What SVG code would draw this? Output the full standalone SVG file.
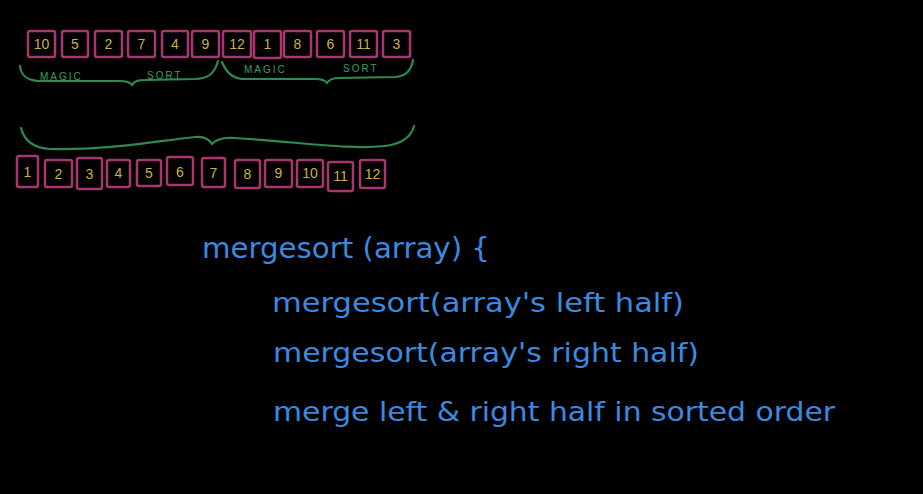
<svg xmlns="http://www.w3.org/2000/svg" width="923" height="494" viewBox="0 0 923 494">
<style>
.bx{fill:none;stroke:#a8366f;stroke-width:2.5}
.num{fill:#c9b23e;font-family:"Liberation Sans",sans-serif;font-size:14px;text-anchor:middle}
.br{fill:none;stroke:#2f8a50;stroke-width:2.2;stroke-linecap:round;stroke-linejoin:round}
.lab{fill:#34a060;font-family:"Liberation Sans",sans-serif;font-size:10px;letter-spacing:2px}
.code{fill:#3a8be0;font-family:"DejaVu Sans",sans-serif}
</style>
<rect width="923" height="494" fill="#000"/>
<g id="top-row">
<g id="t1"><rect class="bx" x="28" y="31" width="27" height="26" rx="2"/><text class="num" x="41.5" y="49">10</text></g>
<g id="t2"><rect class="bx" x="62" y="31" width="26" height="26" rx="2"/><text class="num" x="75" y="49">5</text></g>
<g id="t3"><rect class="bx" x="95" y="31" width="27" height="26" rx="2"/><text class="num" x="108.5" y="49">2</text></g>
<g id="t4"><rect class="bx" x="128" y="31" width="27" height="26" rx="2"/><text class="num" x="141.5" y="49">7</text></g>
<g id="t5"><rect class="bx" x="162" y="31" width="26" height="26" rx="2"/><text class="num" x="175" y="49">4</text></g>
<g id="t6"><rect class="bx" x="192" y="31" width="27" height="26" rx="2"/><text class="num" x="205.5" y="49">9</text></g>
<g id="t7"><rect class="bx" x="223" y="31" width="28" height="26" rx="2"/><text class="num" x="237" y="49">12</text></g>
<g id="t8"><rect class="bx" x="254" y="31" width="27" height="27" rx="2"/><text class="num" x="267.5" y="49">1</text></g>
<g id="t9"><rect class="bx" x="284" y="31" width="27" height="26" rx="2"/><text class="num" x="297.5" y="49">8</text></g>
<g id="t10"><rect class="bx" x="317" y="31" width="27" height="26" rx="2"/><text class="num" x="330.5" y="49">6</text></g>
<g id="t11"><rect class="bx" x="350" y="31" width="27" height="26" rx="2"/><text class="num" x="363.5" y="49">11</text></g>
<g id="t12"><rect class="bx" x="383" y="31" width="27" height="26" rx="2"/><text class="num" x="396.5" y="49">3</text></g>
</g>
<g id="connectors">
<path class="br" d="M20,66 C21,76 27,80 38,81 L120,81 C127,81 130,82 132,85 C134,81 138,80 146,80 L196,79 C210,78 215,72 218,61"/>
<path class="br" d="M222,62 C226,72 232,78 242,79 L315,79 C322,79 325,80 327,83 C329,79 333,78 340,78 L395,77 C406,76 411,71 413,60"/>
<path class="br" d="M21,128 C24,140 32,148 50,149 C110,150 150,142 195,137 C204,136 209,139 212,144 C216,139 222,137 235,138 C300,142 350,150 385,146 C400,144 411,138 414,126"/>
</g>
<g id="labels">
<text class="lab" x="40" y="80">MAGIC</text>
<text class="lab" x="147" y="79">SORT</text>
<text class="lab" x="244" y="73">MAGIC</text>
<text class="lab" x="343" y="72">SORT</text>
</g>
<g id="bottom-row">
<g id="b1"><rect class="bx" x="17" y="156" width="21" height="31" rx="2"/><text class="num" x="27.5" y="177">1</text></g>
<g id="b2"><rect class="bx" x="45" y="160" width="27" height="27" rx="2"/><text class="num" x="58.5" y="179">2</text></g>
<g id="b3"><rect class="bx" x="77" y="158" width="25" height="31" rx="2"/><text class="num" x="89.5" y="179">3</text></g>
<g id="b4"><rect class="bx" x="107" y="160" width="23" height="27" rx="2"/><text class="num" x="118.5" y="178">4</text></g>
<g id="b5"><rect class="bx" x="137" y="160" width="24" height="26" rx="2"/><text class="num" x="149" y="178">5</text></g>
<g id="b6"><rect class="bx" x="167" y="157" width="26" height="28" rx="2"/><text class="num" x="180" y="177">6</text></g>
<g id="b7"><rect class="bx" x="202" y="158" width="23" height="29" rx="2"/><text class="num" x="213.5" y="178">7</text></g>
<g id="b8"><rect class="bx" x="235" y="160" width="25" height="28" rx="2"/><text class="num" x="247.5" y="179">8</text></g>
<g id="b9"><rect class="bx" x="265" y="160" width="27" height="27" rx="2"/><text class="num" x="278.5" y="178">9</text></g>
<g id="b10"><rect class="bx" x="297" y="160" width="26" height="27" rx="2"/><text class="num" x="310" y="178">10</text></g>
<g id="b11"><rect class="bx" x="328" y="162" width="25" height="29" rx="2"/><text class="num" x="340.5" y="181">11</text></g>
<g id="b12"><rect class="bx" x="360" y="160" width="25" height="28" rx="2"/><text class="num" x="372.5" y="179">12</text></g>
</g>
<g id="code">
<text class="code" x="202" y="258" font-size="29" textLength="288" lengthAdjust="spacingAndGlyphs">mergesort (array) {</text>
<text class="code" x="272" y="312" font-size="27" textLength="412" lengthAdjust="spacingAndGlyphs">mergesort(array's left half)</text>
<text class="code" x="273" y="362" font-size="27" textLength="426" lengthAdjust="spacingAndGlyphs">mergesort(array's right half)</text>
<text class="code" x="273" y="421" font-size="27" textLength="562" lengthAdjust="spacingAndGlyphs">merge left &amp; right half in sorted order</text>
</g>
</svg>
